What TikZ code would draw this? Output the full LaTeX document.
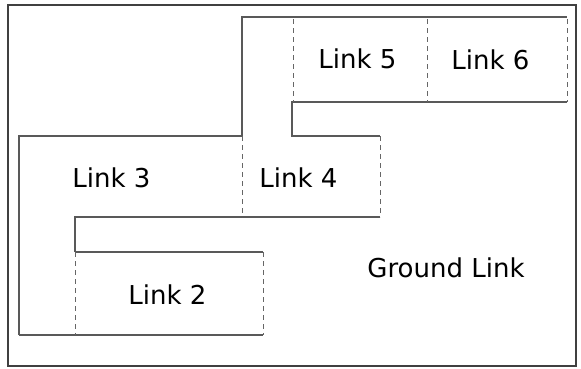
\documentclass[tikz,border=0pt]{standalone}
\usepackage{fontspec}
\setmainfont{DejaVu Sans}

\tikzset{
  edge/.style={draw=black!65, line width=1.1pt},
  joint/.style={draw=black!60, line width=0.9pt, dash pattern=on 5pt off 4pt},
  linklabel/.style={anchor=base, inner sep=0pt, font=\fontsize{26}{31}\selectfont}
}

\begin{document}
\begin{tikzpicture}[x=1pt, y=-1pt]
            \useasboundingbox (0,0) rectangle (581,368);
            \draw[draw=black!75, line width=2pt] (8,5) rectangle (576,366);
            %
            % outline of link 3 running up to links 5 and 6
            \draw[edge] (19,335) -- (19,136) -- (242,136) -- (242,17) -- (567,17);
            \draw[edge] (567,102) -- (292,102) -- (292,136) -- (380,136);
            \draw[edge] (75,252) -- (75,217) -- (380,217);
            \draw[edge] (75,252) -- (263,252);
            \draw[edge] (19,335) -- (263,335);
            %
            % joints between the links
            \draw[joint] (293,19) -- (293,102);
            \draw[joint] (427,19) -- (427,102);
            \draw[joint] (567,19) -- (567,102);
            \draw[joint] (242,136) -- (242,217);
            \draw[joint] (380,136) -- (380,217);
            \draw[joint] (75,252) -- (75,335);
            \draw[joint] (263,252) -- (263,335);
            %
            \node[linklabel] (link5) at (357.5,68) {Link 5};
            \node[linklabel] (link6) at (490.5,69) {Link 6};
            \node[linklabel] (link3) at (111.5,187) {Link 3};
            \node[linklabel] (link4) at (298.5,187) {Link 4};
            \node[linklabel] (link2) at (167.5,304) {Link 2};
            \node[linklabel] (ground) at (446,277) {Ground Link};
        \end{tikzpicture}
\end{document}
